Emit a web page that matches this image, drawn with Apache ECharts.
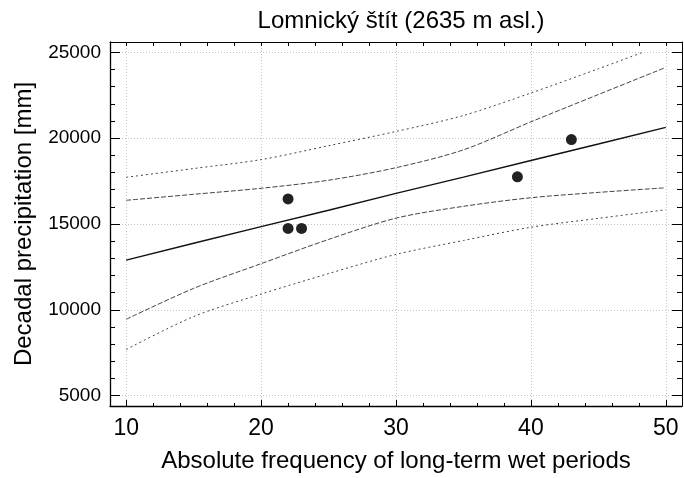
<!DOCTYPE html>
<html>
<head>
<meta charset="utf-8">
<script src="https://cdn.jsdelivr.net/npm/echarts@6/dist/echarts.min.js"></script>
<style>html,body{margin:0;padding:0;background:#fff}#c{width:684px;height:478px}</style>
</head>
<body>
<div id="c"></div>
<script>
// ---- data ----
const pointsX = [22, 22, 23, 39, 43];
const pointsY = [16460, 14740, 14740, 17750, 19920];

const bandX = [10, 15, 20, 25, 30, 35, 40, 45, 50];
const fitY = [12900, 13880, 14850, 15800, 16780, 17730, 18700, 19660, 20630];
const confUpperY = [16380, 16730, 17080, 17550, 18280, 19320, 20950, 22540, 24120];
const confLowerY = [9450, 11250, 12690, 14100, 15340, 16030, 16530, 16840, 17110];
const predUpperX = [10, 15, 20, 25, 30, 35, 40, 45, 48.3];
const predUpperY = [17720, 18230, 18750, 19560, 20390, 21320, 22630, 24040, 25000];
const predLowerY = [7690, 9610, 10920, 12110, 13230, 14040, 14810, 15330, 15830];

const xMajor = [10, 20, 30, 40, 50];
const xMinor = [12, 14, 16, 18, 22, 24, 26, 28, 32, 34, 36, 38, 42, 44, 46, 48];
const xTop = [10, 12, 14, 16, 18, 20, 22, 24, 26, 28, 30, 32, 34, 36, 38, 40, 42, 44, 46, 48, 50];
const yMajor = [5000, 10000, 15000, 20000, 25000];
const yMinor = [6000, 7000, 8000, 9000, 11000, 12000, 13000, 14000, 16000, 17000, 18000, 19000, 21000, 22000, 23000, 24000];

const titleText = 'Lomnický štít (2635 m asl.)';
const xTitle = 'Absolute frequency of long-term wet periods';
const yTitle = 'Decadal precipitation [mm]';

// ---- chart ----
const FONT = 'Liberation Sans, Arial, sans-serif';
const X_MIN = 8.8, X_MAX = 51.2, Y_MIN = 4400, Y_MAX = 25600;
const zip = (xs, ys) => xs.map((x, i) => [x, ys[i]]);

function xAx(extra) {
  return Object.assign({
    type: 'value', min: X_MIN, max: X_MAX, gridIndex: 0,
    axisLine: { show: false }, axisLabel: { show: false },
    splitLine: { show: false }, axisTick: { show: false }
  }, extra);
}
function yAx(extra) {
  return Object.assign({
    type: 'value', min: Y_MIN, max: Y_MAX, gridIndex: 0,
    axisLine: { show: false }, axisLabel: { show: false },
    splitLine: { show: false }, axisTick: { show: false }
  }, extra);
}
const tickStyle = { color: '#000', width: 1 };

const option = {
  animation: false,
  backgroundColor: '#fff',
  title: {
    text: titleText, left: 396, top: 4, textAlign: 'center',
    textStyle: { fontFamily: FONT, fontSize: 24, fontWeight: 'normal', color: '#000' }
  },
  grid: { left: 110, right: 2, top: 42, bottom: 68, containLabel: false },
  xAxis: [
    xAx({
      position: 'bottom',
      axisLine: { show: true, onZero: false, lineStyle: { color: '#000', width: 1.3 } },
      axisTick: { show: true, inside: true, length: 6, customValues: xMajor, lineStyle: tickStyle },
      axisLabel: { show: true, customValues: xMajor, margin: 11, fontFamily: FONT, fontSize: 23, color: '#000',
        formatter: v => String(v) },
      splitLine: { show: true, lineStyle: { color: '#c4c4c4', width: 1, type: [1, 2] } },
      name: xTitle, nameLocation: 'middle', nameGap: 43,
      nameTextStyle: { fontFamily: FONT, fontSize: 24, color: '#000' }
    }),
    xAx({ position: 'bottom',
      axisTick: { show: true, inside: true, length: 3, customValues: xMinor, lineStyle: tickStyle } }),
    xAx({ position: 'top',
      axisLine: { show: true, onZero: false, lineStyle: { color: '#000', width: 1 } },
      axisTick: { show: true, inside: true, length: 4, customValues: xTop, lineStyle: tickStyle } })
  ],
  yAxis: [
    yAx({
      position: 'left',
      axisLine: { show: true, onZero: false, lineStyle: { color: '#000', width: 1.3 } },
      axisTick: { show: true, inside: true, length: 10, customValues: yMajor, lineStyle: tickStyle },
      axisLabel: { show: true, customValues: yMajor, margin: 9, fontFamily: FONT, fontSize: 19, color: '#000',
        formatter: v => String(v) },
      splitLine: { show: true, lineStyle: { color: '#c4c4c4', width: 1, type: [1, 2] } },
      name: yTitle, nameLocation: 'middle', nameGap: 74, nameRotate: 90,
      nameTextStyle: { fontFamily: FONT, fontSize: 24, color: '#000' }
    }),
    yAx({ position: 'left',
      axisTick: { show: true, inside: true, length: 5, customValues: yMinor, lineStyle: tickStyle } }),
    yAx({ position: 'right',
      axisLine: { show: true, onZero: false, lineStyle: { color: '#000', width: 1 } },
      axisTick: { show: true, inside: true, length: 10, customValues: yMajor, lineStyle: tickStyle } }),
    yAx({ position: 'right',
      axisTick: { show: true, inside: true, length: 5, customValues: yMinor, lineStyle: tickStyle } })
  ],
  series: [
    { type: 'line', data: zip(predUpperX, predUpperY), symbol: 'none', silent: true, smooth: 0.3,
      lineStyle: { color: '#444', width: 1, type: [2, 3] } },
    { type: 'line', data: zip(bandX, predLowerY), symbol: 'none', silent: true, smooth: 0.3,
      lineStyle: { color: '#444', width: 1, type: [2, 3] } },
    { type: 'line', data: zip(bandX, confUpperY), symbol: 'none', silent: true, smooth: 0.3,
      lineStyle: { color: '#444', width: 1, type: [5, 2] } },
    { type: 'line', data: zip(bandX, confLowerY), symbol: 'none', silent: true, smooth: 0.3,
      lineStyle: { color: '#444', width: 1, type: [5, 2] } },
    { type: 'line', data: zip(bandX, fitY), symbol: 'none', silent: true,
      lineStyle: { color: '#111', width: 1.4 } },
    { type: 'scatter', data: zip(pointsX, pointsY), symbol: 'circle', symbolSize: 11,
      itemStyle: { color: '#222', opacity: 1 } }
  ]
};
const chart = echarts.init(document.getElementById('c'), null, { renderer: 'canvas' });
chart.setOption(option);
</script>
</body>
</html>
